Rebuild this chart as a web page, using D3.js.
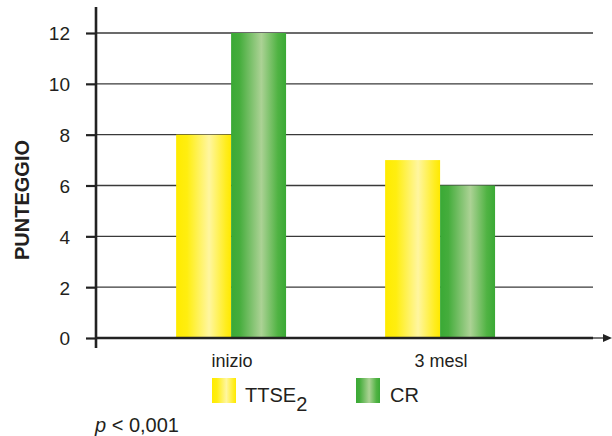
<!DOCTYPE html>
<html><head><meta charset="utf-8">
<script src="https://cdn.jsdelivr.net/npm/d3@7"></script>
<style>
html,body{margin:0;padding:0;background:#fff;}
svg{display:block;font-family:"Liberation Sans",Arial,sans-serif;}
</style></head>
<body>
<svg id="c" width="612" height="436"></svg>
<script>
const categories = ["inizio", "3 mesl"];
const seriesNames = ["TTSE", "CR"];
const ttseValues = [8, 7];
const crValues = [12, 6];
const yTicks = [0, 2, 4, 6, 8, 10, 12];

const svg = d3.select("#c");
const defs = svg.append("defs");

function grad(id, stops) {
  const g = defs.append("linearGradient").attr("id", id)
    .attr("x1", "0%").attr("x2", "100%").attr("y1", "0%").attr("y2", "0%");
  stops.forEach(s => g.append("stop").attr("offset", s[0]).attr("stop-color", s[1]));
}
grad("gY", [["0%", "#ffeb00"], ["20%", "#ffee10"], ["60%", "#fff6a0"], ["90%", "#ffed20"], ["100%", "#ffe900"]]);
grad("gG", [["0%", "#3aa935"], ["15%", "#45ad3c"], ["55%", "#acd295"], ["85%", "#50b343"], ["100%", "#3aa935"]]);
const fills = ["url(#gY)", "url(#gG)"];

const axisLeft = 96, plotRight = 593;
const y = d3.scaleLinear().domain([0, 12]).range([338, 33]);
const x0 = d3.scaleBand().domain(categories).range([axisLeft, plotRight])
  .paddingInner(0.474).paddingOuter(0.426).align(0.45);
const x1 = d3.scaleBand().domain(seriesNames).range([0, x0.bandwidth()]).padding(0);

const textColor = "#231f20";

// gridlines
svg.append("g").selectAll("line").data(yTicks.filter(t => t > 0)).join("line")
  .attr("x1", axisLeft).attr("x2", plotRight)
  .attr("y1", d => y(d)).attr("y2", d => y(d))
  .attr("stroke", "#3a3a3a").attr("stroke-width", 1.4);

// bars
const data = categories.map((c, i) => ({cat: c, vals: [ttseValues[i], crValues[i]]}));
const groups = svg.append("g").selectAll("g").data(data).join("g")
  .attr("transform", d => `translate(${x0(d.cat)},0)`);
groups.selectAll("rect").data(d => d.vals.map((v, j) => ({s: seriesNames[j], v, j}))).join("rect")
  .attr("x", d => x1(d.s)).attr("width", x1.bandwidth())
  .attr("y", d => y(d.v)).attr("height", d => y(0) - y(d.v))
  .attr("fill", d => fills[d.j]);

// y axis with d3 axis
const yAxis = d3.axisLeft(y).tickValues(yTicks).tickSize(10).tickPadding(16).tickFormat(d3.format("d"));
const ya = svg.append("g").attr("transform", `translate(${axisLeft},0)`).call(yAxis);
ya.select(".domain").remove();
ya.selectAll(".tick line").attr("stroke", "#222").attr("stroke-width", 2.2);
ya.selectAll(".tick text").attr("fill", textColor).attr("font-size", 19)
  .attr("font-family", "Liberation Sans, Arial, sans-serif").attr("dy", "0.36em");

// y axis line
svg.append("line").attr("x1", axisLeft).attr("x2", axisLeft).attr("y1", 7).attr("y2", 348)
  .attr("stroke", "#222").attr("stroke-width", 2.6);
// x axis line with arrow
svg.append("line").attr("x1", axisLeft).attr("x2", 593).attr("y1", y(0)).attr("y2", y(0))
  .attr("stroke", "#222").attr("stroke-width", 2.6);
svg.append("line").attr("x1", 593).attr("x2", 604).attr("y1", y(0)).attr("y2", y(0))
  .attr("stroke", "#777").attr("stroke-width", 2);
svg.append("path").attr("d", `M603,${y(0)-4} L612,${y(0)} L603,${y(0)+4} Z`).attr("fill", "#222");

// category labels
svg.append("g").selectAll("text").data(categories).join("text")
  .attr("x", d => x0(d) + x0.bandwidth() / 2 + 1).attr("y", 367)
  .attr("text-anchor", "middle").attr("font-size", 18).attr("fill", textColor)
  .text(d => d);

// y label
svg.append("text").attr("transform", "translate(29,200) rotate(-90)")
  .attr("text-anchor", "middle").attr("font-size", 20).attr("font-weight", "bold")
  .attr("fill", textColor).text("PUNTEGGIO");

// legend
const legendX = [212, 356];
const leg = svg.append("g").selectAll("g").data(seriesNames).join("g")
  .attr("transform", (d, i) => `translate(${legendX[i]},378)`);
leg.append("rect").attr("width", 24).attr("height", 25).attr("fill", (d, i) => fills[i]);
const lt = leg.append("text").attr("x", d => d === "TTSE" ? 33 : 34).attr("y", 24)
  .attr("font-size", 20).attr("fill", textColor);
lt.append("tspan").text(d => d);
lt.filter(d => d === "TTSE").append("tspan").attr("dy", 9).attr("font-size", 20).text("2");

// p value
const pt = svg.append("text").attr("x", 95).attr("y", 432).attr("font-size", 20).attr("fill", textColor);
pt.append("tspan").attr("font-style", "italic").text("p");
pt.append("tspan").text(" < 0,001");
</script>
</body></html>
